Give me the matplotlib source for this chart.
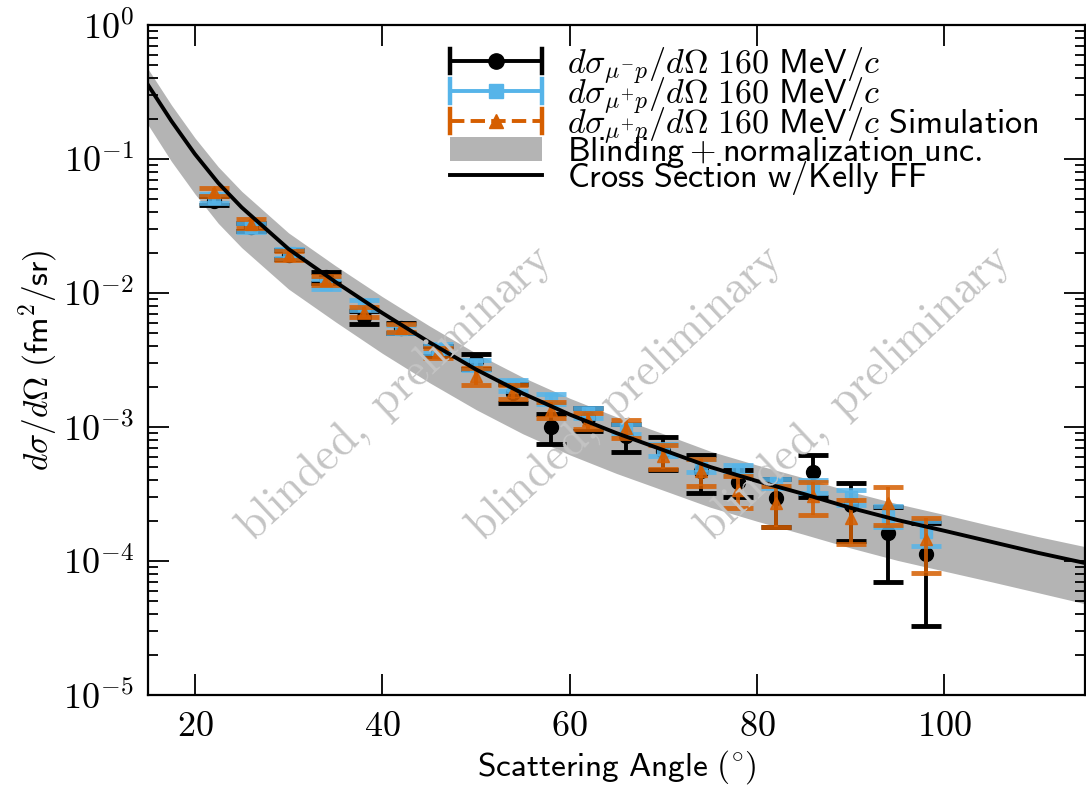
import numpy as np
import matplotlib
matplotlib.use("Agg")
import matplotlib.pyplot as plt
from matplotlib.ticker import FixedLocator, FuncFormatter, LogLocator, NullFormatter, NullLocator
from matplotlib.patches import Patch
from matplotlib.lines import Line2D
from matplotlib.legend_handler import HandlerBase

plt.rcParams['mathtext.fontset'] = 'cm'
plt.rcParams['font.family'] = ['DejaVu Sans']

# ---------------- data ----------------
angles = [22, 26, 30, 34, 38, 42, 46, 50, 54, 58, 62, 66, 70, 74, 78, 82, 86, 90, 94, 98]

mum_val = [0.049, 0.031, 0.0193, 0.0131, 0.0066, 0.0055, 0.0037, 0.0031, 0.0018, 0.00100,
           0.00116, 0.00085, 0.00066, 0.00047, 0.00039, 0.000295, 0.00046, 0.00026, 0.000162, 0.000113]
mum_err = [0.0035, 0.0022, 0.0015, 0.0012, 0.0007, 0.0005, 0.0003, 0.0004, 0.00028, 0.00025,
           0.00022, 0.0002, 0.00018, 0.00015, 0.00009, 0.000115, 0.00016, 0.00012, 0.000092, 0.00008]

mup_val = [0.051, 0.031, 0.0198, 0.0117, 0.0082, 0.0054, 0.00385, 0.0029, 0.00205, 0.00162,
           0.00128, 0.00097, 0.00068, 0.00052, 0.00048, 0.00038, 0.00036, 0.00030, 0.000218, 0.000165]
mup_err = [0.004, 0.0024, 0.0015, 0.001, 0.0007, 0.0004, 0.0003, 0.00025, 0.00018, 0.00014,
           0.00011, 0.00009, 0.00007, 0.00006, 0.00004, 0.00003, 0.00004, 0.00004, 0.00004, 0.000035]

sim_val = [0.057, 0.033, 0.0192, 0.0125, 0.0072, 0.0055, 0.0036, 0.0024, 0.00185, 0.00135,
           0.00112, 0.00098, 0.00061, 0.00047, 0.00034, 0.00027, 0.000305, 0.00021, 0.00027, 0.000145]
sim_err = [0.004, 0.0025, 0.0015, 0.001, 0.0006, 0.0004, 0.0003, 0.00035, 0.00022, 0.00018,
           0.00015, 0.00015, 0.00012, 0.000105, 0.00009, 0.00009, 0.000085, 0.000075, 0.000085, 0.000063]

theory_ang = [15, 17.5, 20, 22.5, 25, 30, 35, 40, 45, 50, 55, 60, 65, 70, 75, 80, 85, 90, 95, 100, 105, 110, 115]
theory_val = [0.357, 0.192, 0.109, 0.0662, 0.0435, 0.0213, 0.0121, 0.0071, 0.0043, 0.00269, 0.00178,
              0.00124, 0.00090, 0.000673, 0.000503, 0.000395, 0.000316, 0.000249, 0.000202, 0.000168,
              0.000139, 0.000115, 0.0000966]
band_hi = [0.47, 0.253, 0.144, 0.0874, 0.0574, 0.0281, 0.016, 0.0094, 0.0057, 0.00355, 0.00235,
           0.00164, 0.00119, 0.00089, 0.00066, 0.00052, 0.000417, 0.000329, 0.000267, 0.000222,
           0.000183, 0.000152, 0.000128]
band_lo = [0.18, 0.096, 0.055, 0.0331, 0.0218, 0.0107, 0.0061, 0.00355, 0.00215, 0.00135, 0.00089,
           0.00062, 0.00045, 0.000337, 0.000252, 0.000198, 0.000158, 0.000125, 0.000101, 0.000084,
           0.000070, 0.000058, 0.000048]

xticks = [20, 40, 60, 80, 100]
yticks = [1e-5, 1e-4, 1e-3, 1e-2, 1e-1, 1e0]

lab_mum = r'$d\sigma_{\mu^{-}p}/d\Omega\ \mathsf{160\ MeV/}c$'
lab_mup = r'$d\sigma_{\mu^{+}p}/d\Omega\ \mathsf{160\ MeV/}c$'
lab_sim = r'$d\sigma_{\mu^{+}p}/d\Omega\ \mathsf{160\ MeV/}c\ \mathsf{Simulation}$'
lab_band = r'$\mathsf{Blinding}+\mathsf{normalization\ unc.}$'
lab_th = r'$\mathsf{Cross\ Section\ w/Kelly\ FF}$'
watermark = r'$\mathrm{blinded,\ preliminary}$'


class HErrHandler(HandlerBase):
    """Legend entry: horizontal bar with end caps and a marker in the middle."""
    def create_artists(self, legend, orig, xd, yd, w, h, fs, trans):
        y = h / 2 - yd
        x0, x1 = -xd, -xd + w
        col = orig.get_color()
        ch = h * 0.5
        arts = [
            Line2D([x0, x1], [y, y], color=col, lw=2.8, ls=orig.get_linestyle()),
            Line2D([x0, x0], [y - ch, y + ch], color=col, lw=3.2),
            Line2D([x1, x1], [y - ch, y + ch], color=col, lw=3.2),
            Line2D([(x0 + x1) / 2], [y], marker=orig.get_marker(), ms=orig.get_markersize(),
                   color=col, ls='none'),
        ]
        for a in arts:
            a.set_transform(trans)
        return arts


# ---------------- figure ----------------
W, H = 1086, 788
fig = plt.figure(figsize=(W / 100, H / 100), dpi=100)
ax = fig.add_axes([148 / W, 1 - 695 / H, 937 / W, 670 / H])

c_blk = 'black'
c_blu = '#56B4E9'
c_org = '#D55E00'
c_band = '#b4b4b4'

ax.fill_between(theory_ang, band_lo, band_hi, color=c_band, lw=0, zorder=1)
th_line, = ax.plot(theory_ang, theory_val, color='black', lw=2.8, zorder=5)

eb_kw = dict(elinewidth=2.8, capsize=11, capthick=3.5, linestyle='none')
ax.errorbar(angles, mum_val, yerr=mum_err, fmt='o', color=c_blk, ms=10, zorder=2, **eb_kw)
ax.errorbar(angles, mup_val, yerr=mup_err, fmt='s', color=c_blu, ms=9, alpha=0.85, zorder=3, **eb_kw)
ax.errorbar(angles, sim_val, yerr=sim_err, fmt='^', color=c_org, ms=9, alpha=0.85, zorder=4, **eb_kw)

ax.set_yscale('log')
ax.set_xlim(15, 115)
ax.set_ylim(1e-5, 1e0)

ax.xaxis.set_major_locator(FixedLocator(xticks))
ax.xaxis.set_minor_locator(NullLocator())
ax.xaxis.set_major_formatter(FuncFormatter(lambda v, p: r'$%d$' % v))
ax.yaxis.set_major_locator(FixedLocator(yticks))
ax.yaxis.set_minor_locator(LogLocator(base=10, subs=np.arange(2, 10), numticks=20))
ax.yaxis.set_minor_formatter(NullFormatter())
ax.yaxis.set_major_formatter(FuncFormatter(lambda v, p: r'$10^{%d}$' % int(round(np.log10(v)))))

ax.tick_params(which='both', direction='in', top=True, right=True, width=1.3, labelsize=26)
ax.tick_params(which='major', length=15, pad=10)
ax.tick_params(which='minor', length=7)
for s in ax.spines.values():
    s.set_linewidth(1.6)

ax.set_xlabel(r'$\mathsf{Scattering\ Angle\ (^{\circ})}$', fontsize=24, labelpad=4)
ax.set_ylabel(r'$d\sigma/d\Omega\ \mathsf{(fm^{2}/sr)}$', fontsize=24, labelpad=2)

for xf in [0.264, 0.51, 0.754]:
    ax.text(xf, 0.45, watermark, transform=ax.transAxes, rotation=43, fontsize=33,
            color='#c4c4c4', ha='center', va='center', rotation_mode='anchor', zorder=6)

h_mum = Line2D([], [], color=c_blk, marker='o', ms=11, ls='-')
h_mup = Line2D([], [], color=c_blu, marker='s', ms=10, ls='-')
h_sim = Line2D([], [], color=c_org, marker='^', ms=10, ls=(0, (6, 5.5)))
band_patch = Patch(facecolor=c_band, edgecolor='none')
hh = HErrHandler()
leg = ax.legend([h_mum, h_mup, h_sim, band_patch, th_line], [lab_mum, lab_mup, lab_sim, lab_band, lab_th],
                handler_map={h_mum: hh, h_mup: hh, h_sim: hh},
                loc='upper left', bbox_to_anchor=(0.322, 0.97), frameon=False, fontsize=24.5,
                handlelength=2.7, handleheight=0.7, handletextpad=0.75, labelspacing=-0.32,
                borderpad=0.0, borderaxespad=0.0)

fig.savefig('out.png', dpi=100)
